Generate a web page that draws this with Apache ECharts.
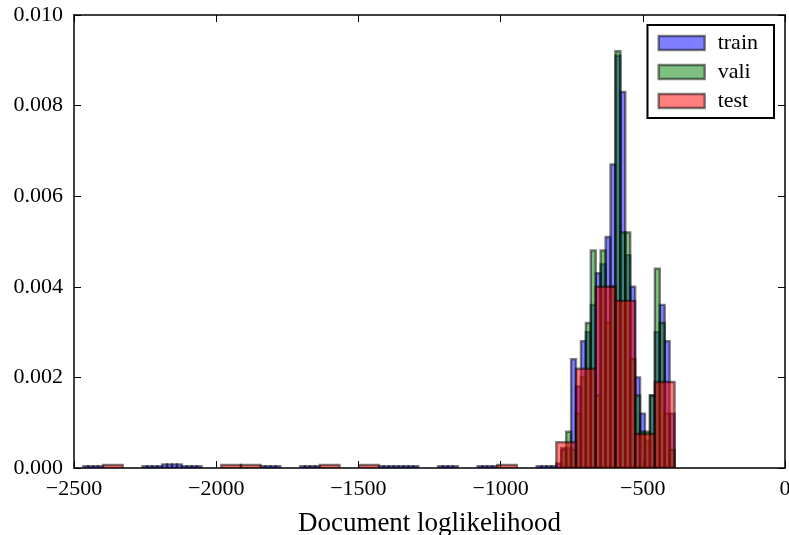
<!DOCTYPE html>
<html>
<head>
<meta charset="utf-8">
<script src="https://cdn.jsdelivr.net/npm/echarts@6/dist/echarts.min.js"></script>
<style>
  html, body { margin: 0; padding: 0; background: #fff; }
  #main { width: 789px; height: 535px; }
</style>
</head>
<body>
<div id="main"></div>
<script>
// x ticks / y ticks
const xTicks = [-2500, -2000, -1500, -1000, -500, 0];
const yTicks = [0, 0.002, 0.004, 0.006, 0.008, 0.010];

// train: narrow bins over the whole range
const trainStart = -2467.3;
const trainWidth = 17.325;
const trainDensity = [
  0.00004, 0.00004, 0.00004, 0.00004, 0, 0, 0, 0, 0, 0, 0, 0,
  0.00004, 0.00004, 0.00004, 0.00004, 0.00008, 0.00008, 0.00008, 0.00008, 0.00004, 0.00004, 0.00004, 0.00004,
  0, 0, 0, 0, 0, 0, 0, 0, 0, 0, 0, 0,
  0.00004, 0.00004, 0.00004, 0.00004, 0, 0, 0, 0, 0.00004, 0.00004, 0.00004, 0.00004,
  0, 0, 0, 0, 0, 0, 0, 0, 0, 0, 0, 0,
  0.00004, 0.00004, 0.00004, 0.00004, 0.00004, 0.00004, 0.00004, 0.00004, 0, 0, 0, 0,
  0.00004, 0.00004, 0.00004, 0.00004, 0, 0, 0, 0, 0.00004, 0.00004, 0.00004, 0.00004,
  0, 0, 0, 0, 0, 0, 0, 0, 0.00004, 0.00004, 0.00004, 0.00004,
  0.0001, 0.00044, 0.00044, 0.0024, 0.0018, 0.0028, 0.0030, 0.0036, 0.0043, 0.0045, 0.0051, 0.0067,
  0.0091, 0.0083, 0.0047, 0.0040, 0.0020, 0.0012, 0.0006, 0.0016, 0.0030, 0.0036, 0.0028, 0.0012
];

// vali: narrow bins around the peak
const valiStart = -804.1;
const valiWidth = 17.325;
const valiDensity = [
  0, 0.0004, 0.0008, 0.0004, 0.0012, 0.0020, 0.0032, 0.0048, 0.0016, 0.0048, 0.0032, 0.0040,
  0.0092, 0.0052, 0.0052, 0.0024, 0.0016, 0.0008, 0.0008, 0.0016, 0.0044, 0.0032, 0.0012, 0.0004
];

// test: wide bins
const testStart = -2398;
const testWidth = 69.3;
const testDensity = [
  0.00007, 0, 0, 0, 0, 0, 0.00007, 0.00007, 0, 0,
  0, 0.00007, 0, 0.00007, 0, 0, 0, 0, 0, 0,
  0.00007, 0, 0, 0.00057, 0.00219, 0.0040, 0.00369, 0.00075, 0.0019
];

const seriesNames = ['train', 'vali', 'test'];
const fills = ['rgba(0,0,255,0.5)', 'rgba(0,128,0,0.5)', 'rgba(255,0,0,0.5)'];
const edge = 'rgba(0,0,0,0.5)';
const edgeWidth = 2.4;
const font = '"Liberation Serif", "DejaVu Serif", serif';

function histSeries(name, fill, start, width, dens) {
  const data = [];
  dens.forEach((d, i) => {
    if (d > 0) data.push([start + i * width, start + (i + 1) * width, d]);
  });
  return {
    name: name,
    type: 'custom',
    clip: true,
    data: data,
    encode: { x: [0, 1], y: 2 },
    itemStyle: { color: fill, borderColor: edge, borderWidth: edgeWidth },
    renderItem: function (params, api) {
      const p0 = api.coord([api.value(0), api.value(2)]);
      const p1 = api.coord([api.value(1), 0]);
      return {
        type: 'rect',
        shape: { x: p0[0], y: p0[1], width: p1[0] - p0[0], height: p1[1] - p0[1] },
        style: { fill: fill, stroke: edge, lineWidth: edgeWidth }
      };
    }
  };
}

const minus = v => String(v).replace('-', '\u2212');

const baseAxis = {
  type: 'value',
  axisLine: { show: true, onZero: false, lineStyle: { color: '#000', width: 1.5 } },
  axisTick: { show: true, inside: true, length: 7, lineStyle: { color: '#000', width: 1 } },
  splitLine: { show: false }
};

const chart = echarts.init(document.getElementById('main'));
chart.setOption({
  animation: false,
  backgroundColor: '#fff',
  grid: { left: 74, right: 4, top: 15, bottom: 67, outerBoundsMode: 'none' },
  legend: {
    orient: 'vertical',
    top: 25,
    right: 15,
    padding: [7, 16, 6, 10],
    itemWidth: 46,
    itemHeight: 14,
    itemGap: 7,
    borderColor: '#000',
    borderWidth: 2,
    icon: 'rect',
    textStyle: { fontFamily: font, fontSize: 22, color: '#000', padding: [0, 0, 0, 8] },
    data: seriesNames.map((n, i) => ({
      name: n,
      itemStyle: { color: fills[i], borderColor: edge, borderWidth: 2.4 }
    }))
  },
  xAxis: [
    Object.assign({}, baseAxis, {
      position: 'bottom',
      min: xTicks[0], max: xTicks[xTicks.length - 1], interval: 500,
      axisLabel: { color: '#000', fontFamily: font, fontSize: 22, margin: 10, formatter: minus },
      name: 'Document loglikelihood',
      nameLocation: 'middle',
      nameGap: 42,
      nameTextStyle: { color: '#000', fontFamily: font, fontSize: 27 }
    }),
    Object.assign({}, baseAxis, {
      position: 'top',
      min: xTicks[0], max: xTicks[xTicks.length - 1], interval: 500,
      axisLabel: { show: false }
    })
  ],
  yAxis: [
    Object.assign({}, baseAxis, {
      position: 'left',
      min: yTicks[0], max: yTicks[yTicks.length - 1], interval: 0.002,
      axisLabel: { color: '#000', fontFamily: font, fontSize: 22, margin: 11, formatter: v => v.toFixed(3) }
    }),
    Object.assign({}, baseAxis, {
      position: 'right',
      min: yTicks[0], max: yTicks[yTicks.length - 1], interval: 0.002,
      axisLabel: { show: false }
    })
  ],
  series: [
    histSeries('train', fills[0], trainStart, trainWidth, trainDensity),
    histSeries('vali', fills[1], valiStart, valiWidth, valiDensity),
    histSeries('test', fills[2], testStart, testWidth, testDensity)
  ]
});
</script>
</body>
</html>
